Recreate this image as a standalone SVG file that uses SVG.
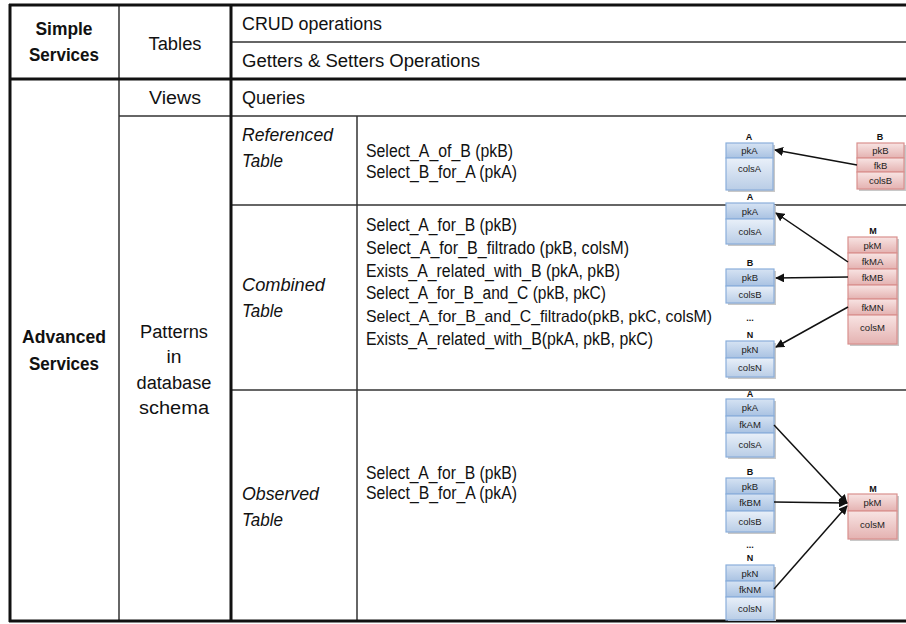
<svg xmlns="http://www.w3.org/2000/svg" width="906" height="624" viewBox="0 0 906 624">
<style>
.t{font-family:"Liberation Sans",Arial,sans-serif;font-size:18px;fill:#111}
.b{font-weight:bold}
.i{font-style:italic}
.m{text-anchor:middle}
.thick{stroke:#111;stroke-width:3;fill:none}
.thin{stroke:#333;stroke-width:1.5;fill:none}
.s{font-family:"Liberation Sans",Arial,sans-serif;font-size:9.5px;fill:#222;text-anchor:middle}
.lb{font-family:"Liberation Sans",Arial,sans-serif;font-size:9px;font-weight:bold;fill:#111;text-anchor:middle}
.rb{fill:url(#gb);stroke:#8aaedb;stroke-width:1.2}
.rh{fill:url(#gbh);stroke:#8aaedb;stroke-width:1.2}
.rr{fill:url(#gr);stroke:#d9908e;stroke-width:1.2}
.sh{fill:#c8c8c8}
.con{stroke:#111;stroke-width:1.5;fill:none}
</style>
<defs>
<linearGradient id="gb" x1="0" y1="0" x2="0" y2="1">
<stop offset="0" stop-color="#e9f0f9"/>
<stop offset="1" stop-color="#b9cde6"/>
</linearGradient>
<linearGradient id="gbh" x1="0" y1="0" x2="0" y2="1">
<stop offset="0" stop-color="#d6e3f3"/>
<stop offset="1" stop-color="#a9c2e2"/>
</linearGradient>
<linearGradient id="gr" x1="0" y1="0" x2="0" y2="1">
<stop offset="0" stop-color="#f8e4e3"/>
<stop offset="1" stop-color="#e4b2b1"/>
</linearGradient>
<marker id="ah" viewBox="0 0 10 10" refX="9" refY="5" markerWidth="9" markerHeight="9" markerUnits="userSpaceOnUse" orient="auto">
<path d="M0,0 L10,5 L0,10 z" fill="#111"/>
</marker>
</defs>
<rect width="906" height="624" fill="#fff"/>

<g id="grid">
<line class="thin" x1="119" y1="5" x2="119" y2="621"/>
<line class="thin" x1="231" y1="42" x2="906" y2="42"/>
<line class="thin" x1="119" y1="116" x2="906" y2="116"/>
<line class="thin" x1="231" y1="205" x2="906" y2="205"/>
<line class="thin" x1="231" y1="390" x2="906" y2="390"/>
<line class="thin" x1="357" y1="116" x2="357" y2="621"/>
<line class="thick" x1="9" y1="5" x2="906" y2="5"/>
<line class="thick" x1="9" y1="79" x2="906" y2="79"/>
<line class="thick" x1="9" y1="621" x2="906" y2="621"/>
<line class="thick" x1="10" y1="4" x2="10" y2="622"/>
<line class="thick" x1="231" y1="4" x2="231" y2="622"/>
</g>

<g id="simple-services"><text class="t b m" x="64" y="35" textLength="57" lengthAdjust="spacingAndGlyphs">Simple</text><text class="t b m" x="64" y="61" textLength="70" lengthAdjust="spacingAndGlyphs">Services</text></g>
<g id="tables"><text class="t m" x="175" y="50" textLength="53" lengthAdjust="spacingAndGlyphs">Tables</text></g>
<g id="crud"><text class="t" x="242" y="30" textLength="140" lengthAdjust="spacingAndGlyphs">CRUD operations</text></g>
<g id="getset"><text class="t" x="242" y="67" textLength="238" lengthAdjust="spacingAndGlyphs">Getters &amp; Setters Operations</text></g>
<g id="views"><text class="t m" x="175" y="104" textLength="52" lengthAdjust="spacingAndGlyphs">Views</text></g>
<g id="queries"><text class="t" x="242" y="104" textLength="63" lengthAdjust="spacingAndGlyphs">Queries</text></g>
<g id="advanced-services"><text class="t b m" x="64" y="343" textLength="84" lengthAdjust="spacingAndGlyphs">Advanced</text><text class="t b m" x="64" y="370" textLength="70" lengthAdjust="spacingAndGlyphs">Services</text></g>
<g id="patterns">
<text class="t m" x="174" y="338" textLength="68" lengthAdjust="spacingAndGlyphs">Patterns</text>
<text class="t m" x="174" y="363" textLength="15" lengthAdjust="spacingAndGlyphs">in</text>
<text class="t m" x="174" y="389" textLength="75" lengthAdjust="spacingAndGlyphs">database</text>
<text class="t m" x="174" y="414" textLength="70" lengthAdjust="spacingAndGlyphs">schema</text>
</g>
<g id="referenced"><text class="t i" x="242" y="141" textLength="91" lengthAdjust="spacingAndGlyphs">Referenced</text><text class="t i" x="242" y="167" textLength="41" lengthAdjust="spacingAndGlyphs">Table</text></g>
<g id="referenced-ops">
<text class="t" x="366" y="157" textLength="147" lengthAdjust="spacingAndGlyphs">Select_A_of_B (pkB)</text>
<text class="t" x="366" y="178" textLength="151" lengthAdjust="spacingAndGlyphs">Select_B_for_A (pkA)</text>
</g>
<g id="combined"><text class="t i" x="242" y="291" textLength="83" lengthAdjust="spacingAndGlyphs">Combined</text><text class="t i" x="242" y="317" textLength="41" lengthAdjust="spacingAndGlyphs">Table</text></g>
<g id="combined-ops">
<text class="t" x="366" y="231" textLength="151" lengthAdjust="spacingAndGlyphs">Select_A_for_B (pkB)</text>
<text class="t" x="366" y="254" textLength="263" lengthAdjust="spacingAndGlyphs">Select_A_for_B_filtrado (pkB, colsM)</text>
<text class="t" x="366" y="277" textLength="254" lengthAdjust="spacingAndGlyphs">Exists_A_related_with_B (pkA, pkB)</text>
<text class="t" x="366" y="299" textLength="240" lengthAdjust="spacingAndGlyphs">Select_A_for_B_and_C (pkB, pkC)</text>
<text class="t" x="366" y="322" style="font-size:16.5px" textLength="346" lengthAdjust="spacingAndGlyphs">Select_A_for_B_and_C_filtrado(pkB, pkC, colsM)</text>
<text class="t" x="366" y="345" textLength="287" lengthAdjust="spacingAndGlyphs">Exists_A_related_with_B(pkA, pkB, pkC)</text>
</g>
<g id="observed"><text class="t i" x="242" y="500" textLength="77" lengthAdjust="spacingAndGlyphs">Observed</text><text class="t i" x="242" y="526" textLength="41" lengthAdjust="spacingAndGlyphs">Table</text></g>
<g id="observed-ops">
<text class="t" x="366" y="479" textLength="151" lengthAdjust="spacingAndGlyphs">Select_A_for_B (pkB)</text>
<text class="t" x="366" y="499" textLength="151" lengthAdjust="spacingAndGlyphs">Select_B_for_A (pkA)</text>
</g>

<!-- Referenced table diagram -->
<g id="ref-A">
<text class="lb" x="749" y="140">A</text>
<rect class="sh" x="728" y="145" width="47" height="47"/>
<rect class="rh" x="726" y="143" width="47" height="15"/><text class="s" x="749.5" y="154">pkA</text>
<rect class="rb" x="726" y="158" width="47" height="32"/><text class="s" x="749.5" y="172">colsA</text>
</g>
<g id="ref-B">
<text class="lb" x="880" y="140">B</text>
<rect class="sh" x="859" y="145" width="47" height="46"/>
<rect class="rr" x="857" y="143" width="47" height="15"/><text class="s" x="880.5" y="154">pkB</text>
<rect class="rr" x="857" y="158" width="47" height="14"/><text class="s" x="880.5" y="168.5">fkB</text>
<rect class="rr" x="857" y="172" width="47" height="17"/><text class="s" x="880.5" y="184">colsB</text>
</g>

<!-- Combined table diagram -->
<g id="comb-A">
<text class="lb" x="750" y="200">A</text>
<rect class="sh" x="728" y="205" width="48" height="41"/>
<rect class="rh" x="726" y="203" width="48" height="16"/><text class="s" x="750" y="214.5">pkA</text>
<rect class="rb" x="726" y="219" width="48" height="25"/><text class="s" x="750" y="234.5">colsA</text>
</g>
<g id="comb-B">
<text class="lb" x="750" y="266">B</text>
<rect class="sh" x="728" y="271" width="48" height="34"/>
<rect class="rh" x="726" y="269" width="48" height="17"/><text class="s" x="750" y="281">pkB</text>
<rect class="rb" x="726" y="286" width="48" height="17"/><text class="s" x="750" y="298">colsB</text>
</g>
<g id="comb-dots"><text class="lb" x="750" y="321">...</text></g>
<g id="comb-N">
<text class="lb" x="750" y="338">N</text>
<rect class="sh" x="728" y="343" width="48" height="36"/>
<rect class="rh" x="726" y="341" width="48" height="17"/><text class="s" x="750" y="353">pkN</text>
<rect class="rb" x="726" y="358" width="48" height="19"/><text class="s" x="750" y="371">colsN</text>
</g>
<g id="comb-M">
<text class="lb" x="873" y="234">M</text>
<rect class="sh" x="850" y="239" width="49" height="107"/>
<rect class="rr" x="848" y="237" width="49" height="16"/><text class="s" x="872.5" y="248.5">pkM</text>
<rect class="rr" x="848" y="253" width="49" height="16"/><text class="s" x="872.5" y="264.5">fkMA</text>
<rect class="rr" x="848" y="269" width="49" height="16"/><text class="s" x="872.5" y="280.5">fkMB</text>
<rect class="rr" x="848" y="285" width="49" height="14"/>
<rect class="rr" x="848" y="299" width="49" height="16"/><text class="s" x="872.5" y="310.5">fkMN</text>
<rect class="rr" x="848" y="315" width="49" height="29"/><text class="s" x="872.5" y="331">colsM</text>
</g>

<!-- Observed table diagram -->
<g id="obs-A">
<text class="lb" x="750" y="397">A</text>
<rect class="sh" x="728" y="401" width="48" height="58"/>
<rect class="rh" x="726" y="399" width="48" height="17"/><text class="s" x="750" y="411">pkA</text>
<rect class="rh" x="726" y="416" width="48" height="17"/><text class="s" x="750" y="428">fkAM</text>
<rect class="rb" x="726" y="433" width="48" height="24"/><text class="s" x="750" y="448">colsA</text>
</g>
<g id="obs-B">
<text class="lb" x="750" y="475">B</text>
<rect class="sh" x="728" y="480" width="48" height="54"/>
<rect class="rh" x="726" y="478" width="48" height="16"/><text class="s" x="750" y="489.5">pkB</text>
<rect class="rh" x="726" y="494" width="48" height="17"/><text class="s" x="750" y="506">fkBM</text>
<rect class="rb" x="726" y="511" width="48" height="21"/><text class="s" x="750" y="525">colsB</text>
</g>
<g id="obs-dots"><text class="lb" x="750" y="548">...</text></g>
<g id="obs-N">
<text class="lb" x="750" y="561">N</text>
<rect class="sh" x="728" y="567" width="48" height="54"/>
<rect class="rh" x="726" y="565" width="48" height="16"/><text class="s" x="750" y="576.5">pkN</text>
<rect class="rh" x="726" y="581" width="48" height="16"/><text class="s" x="750" y="592.5">fkNM</text>
<rect class="rb" x="726" y="597" width="48" height="23"/><text class="s" x="750" y="612">colsN</text>
</g>
<g id="obs-M">
<text class="lb" x="873" y="492">M</text>
<rect class="sh" x="850" y="496" width="49" height="45"/>
<rect class="rr" x="848" y="494" width="49" height="17"/><text class="s" x="872.5" y="506">pkM</text>
<rect class="rr" x="848" y="511" width="49" height="28"/><text class="s" x="872.5" y="528">colsM</text>
</g>

<g id="connectors">
<line class="con" x1="857" y1="165" x2="775" y2="150" marker-end="url(#ah)"/>
<line class="con" x1="848" y1="262" x2="776" y2="213" marker-end="url(#ah)"/>
<line class="con" x1="848" y1="277" x2="776" y2="278" marker-end="url(#ah)"/>
<line class="con" x1="848" y1="307" x2="776" y2="347" marker-end="url(#ah)"/>
<line class="con" x1="774" y1="425" x2="847" y2="503" marker-end="url(#ah)"/>
<line class="con" x1="774" y1="502" x2="847" y2="503" marker-end="url(#ah)"/>
<line class="con" x1="774" y1="589" x2="847" y2="506" marker-end="url(#ah)"/>
</g>
</svg>
